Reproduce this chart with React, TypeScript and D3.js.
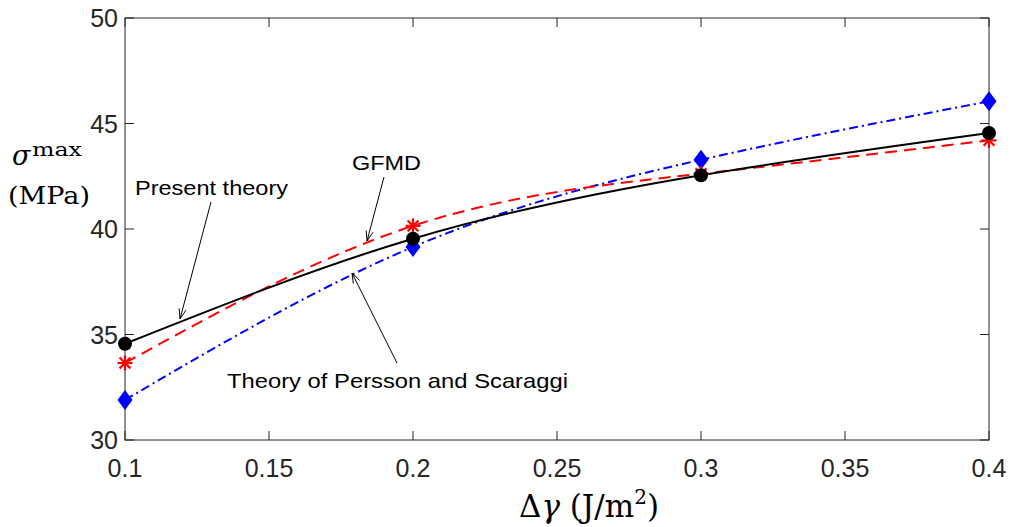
import React from "react";
import * as d3 from "d3";

const xVals = [0.1, 0.2, 0.3, 0.4];
const presentTheory = [34.56, 39.54, 42.55, 44.55];
const gfmd = [33.65, 40.15, 42.62, 44.2];
const perssonScaraggi = [31.9, 39.15, 43.28, 46.05];
const xTicks = [0.1, 0.15, 0.2, 0.25, 0.3, 0.35, 0.4];
const yTicks = [30, 35, 40, 45, 50];

const W = 1014, H = 527;
const L = 125, R = 989, T = 18, B = 440;

export default function App() {
  const x = d3.scaleLinear().domain([0.1, 0.4]).range([L, R]);
  const y = d3.scaleLinear().domain([30, 50]).range([B, T]);
  const line = d3
    .line<number>()
    .x((_, i) => x(xVals[i]))
    .y((d) => y(d))
    .curve(d3.curveNatural);
  const axisColor = "#262626";
  const tickLen = 9;
  const sans = "Liberation Sans, Arial, Helvetica, sans-serif";
  const serif = "DejaVu Serif, Liberation Serif, serif";

  const star = (cx: number, cy: number, k: number) => {
    const r = 7.5;
    const d = r * 0.72;
    return (
      <g key={k} stroke="#ff0000" strokeWidth={2.2}>
        <line x1={cx - r} y1={cy} x2={cx + r} y2={cy} />
        <line x1={cx} y1={cy - r} x2={cx} y2={cy + r} />
        <line x1={cx - d} y1={cy - d} x2={cx + d} y2={cy + d} />
        <line x1={cx - d} y1={cy + d} x2={cx + d} y2={cy - d} />
      </g>
    );
  };
  const diamond = (cx: number, cy: number, k: number) => {
    const w = 7.5, h = 10;
    return (
      <path
        key={k}
        d={`M${cx},${cy - h}L${cx + w},${cy}L${cx},${cy + h}L${cx - w},${cy}Z`}
        fill="#0000ff"
      />
    );
  };

  const arrow = (x1: number, y1: number, x2: number, y2: number) => {
    const ang = Math.atan2(y2 - y1, x2 - x1);
    const len = 10, wid = 3.5;
    const bx = x2 - len * Math.cos(ang), by = y2 - len * Math.sin(ang);
    const px = -Math.sin(ang) * wid, py = Math.cos(ang) * wid;
    return (
      <g>
        <line x1={x1} y1={y1} x2={x2} y2={y2} stroke="#000" strokeWidth={1} />
        <path
          d={`M${bx + px},${by + py}L${x2},${y2}L${bx - px},${by - py}`}
          fill="none"
          stroke="#000"
          strokeWidth={1}
        />
      </g>
    );
  };

  return (
    <svg
      width={W}
      height={H}
      style={{ position: "fixed", left: 0, top: 0, background: "#fff" }}
    >
      <rect x={0} y={0} width={W} height={H} fill="#fff" />
      {/* axes box */}
      <rect x={L} y={T} width={R - L} height={B - T} fill="none" stroke={axisColor} strokeWidth={1} />
      {xTicks.map((t, i) => (
        <g key={"xt" + i}>
          <line x1={x(t)} x2={x(t)} y1={B} y2={B - tickLen} stroke={axisColor} />
          <line x1={x(t)} x2={x(t)} y1={T} y2={T + tickLen} stroke={axisColor} />
          <text x={x(t)} y={477} textAnchor="middle" fontFamily={sans} fontSize={25} fill={axisColor}>
            {String(t)}
          </text>
        </g>
      ))}
      {yTicks.map((t, i) => (
        <g key={"yt" + i}>
          <line x1={L} x2={L + tickLen} y1={y(t)} y2={y(t)} stroke={axisColor} />
          <line x1={R} x2={R - tickLen} y1={y(t)} y2={y(t)} stroke={axisColor} />
          <text x={118} y={y(t) + 9} textAnchor="end" fontFamily={sans} fontSize={25} fill={axisColor}>
            {t}
          </text>
        </g>
      ))}

      {/* curves */}
      <path d={line(perssonScaraggi) || ""} fill="none" stroke="#0000ff" strokeWidth={2} strokeDasharray="9,4,2,4" />
      <path d={line(gfmd) || ""} fill="none" stroke="#ff0000" strokeWidth={2} strokeDasharray="12,7" />
      <path d={line(presentTheory) || ""} fill="none" stroke="#000" strokeWidth={2} />

      {/* markers */}
      {perssonScaraggi.map((v, i) => diamond(x(xVals[i]), y(v), i))}
      {gfmd.map((v, i) => star(x(xVals[i]), y(v), i))}
      {presentTheory.map((v, i) => (
        <circle key={"c" + i} cx={x(xVals[i])} cy={y(v)} r={7} fill="#000" />
      ))}

      {/* annotations */}
      <text x={135} y={195} fontFamily={sans} fontSize={21} textLength={153} lengthAdjust="spacingAndGlyphs" fill="#000">Present theory</text>
      {arrow(211, 202, 180, 319)}
      <text x={352} y={170} fontFamily={sans} fontSize={21} textLength={69} lengthAdjust="spacingAndGlyphs" fill="#000">GFMD</text>
      {arrow(384, 177, 367, 241)}
      <text x={227} y={388} fontFamily={sans} fontSize={21} textLength={341} lengthAdjust="spacingAndGlyphs" fill="#000">Theory of Persson and Scaraggi</text>
      {arrow(397, 363, 352, 273)}

      {/* y label */}
      <text x={12} y={165} fontFamily={serif} fontSize={27} fontStyle="italic" fill="#000">σ</text>
      <text x={32} y={156} fontFamily={serif} fontSize={19} textLength={50} lengthAdjust="spacingAndGlyphs" fill="#000">max</text>
      <text x={8} y={204} fontFamily={serif} fontSize={24} textLength={82} lengthAdjust="spacingAndGlyphs" fill="#000">(MPa)</text>

      {/* x label */}
      <text x={519} y={517} fontFamily={serif} fontSize={31} fill="#000">
        <tspan>Δ</tspan>
        <tspan fontStyle="italic">γ</tspan>
        <tspan> (J/m</tspan>
        <tspan fontSize={20} dy={-13}>2</tspan>
        <tspan dy={13}>)</tspan>
      </text>
    </svg>
  );
}
